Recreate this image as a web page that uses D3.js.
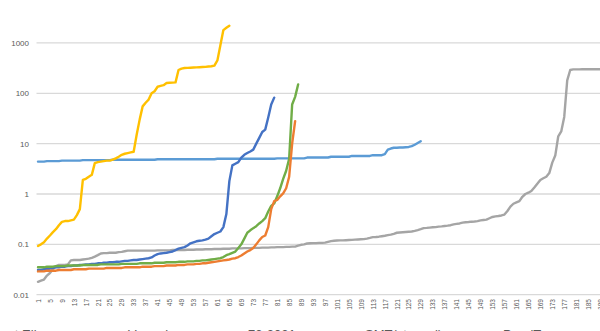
<!DOCTYPE html>
<html>
<head>
<meta charset="utf-8">
<script src="https://cdn.jsdelivr.net/npm/d3@7"></script>
<style>
  html, body { margin: 0; padding: 0; background: #fff; }
  svg { display: block; overflow: hidden; }
  text { font-family: "Liberation Sans", Arial, sans-serif; fill: #595959; }
</style>
</head>
<body>
<svg id="chart" width="600" height="331"></svg>
<script>
// Category positions along the x axis (1 .. 193)
const categories = d3.range(1, 194);
const xTickLabels = categories.filter(c => (c - 1) % 4 === 0);
const yTickLabels = [0.01, 0.1, 1, 10, 100, 1000];

const rootElim = [
  0.031,0.031,0.032,0.032,0.033,0.034,0.035,0.035,0.036,0.036,
  0.037,0.037,0.038,0.038,0.039,0.039,0.040,0.040,0.041,0.041,
  0.042,0.042,0.043,0.043,0.044,0.044,0.045,0.045,0.046,0.047,
  0.047,0.048,0.049,0.049,0.050,0.051,0.052,0.053,0.055,0.060,
  0.064,0.066,0.067,0.068,0.070,0.072,0.077,0.082,0.085,0.088,
  0.095,0.105,0.11,0.115,0.118,0.12,0.124,0.13,0.145,0.16,
  0.17,0.18,0.22,0.4,1.8,3.7,4.0,4.3,5.3,6.0,
  6.5,7.0,7.6,10,13,17,19,33,60,82
];

const varmain = [
  0.029,0.029,0.029,0.030,0.030,0.030,0.030,0.031,0.031,0.031,
  0.031,0.031,0.032,0.032,0.032,0.032,0.032,0.033,0.033,0.033,
  0.033,0.033,0.033,0.034,0.034,0.034,0.034,0.034,0.034,0.035,
  0.035,0.035,0.035,0.035,0.035,0.036,0.036,0.036,0.036,0.037,
  0.037,0.037,0.037,0.038,0.038,0.038,0.038,0.039,0.039,0.039,
  0.040,0.040,0.040,0.041,0.041,0.042,0.042,0.043,0.044,0.045,
  0.046,0.047,0.048,0.049,0.050,0.052,0.053,0.056,0.060,0.066,
  0.072,0.077,0.085,0.10,0.12,0.14,0.15,0.22,0.5,0.72,
  0.76,0.9,1.03,1.3,2.2,10,28
];

const set2021 = [
  0.018,0.019,0.020,0.024,0.027,0.032,0.037,0.039,0.039,0.039,
  0.040,0.048,0.049,0.049,0.049,0.050,0.051,0.052,0.054,0.057,
  0.061,0.066,0.067,0.067,0.068,0.068,0.068,0.070,0.071,0.073,
  0.075,0.075,0.075,0.075,0.075,0.075,0.075,0.075,0.075,0.075,
  0.076,0.076,0.076,0.076,0.076,0.077,0.077,0.077,0.077,0.077,
  0.078,0.078,0.078,0.079,0.079,0.079,0.080,0.080,0.080,0.081,
  0.081,0.081,0.082,0.082,0.082,0.083,0.083,0.083,0.083,0.084,
  0.084,0.084,0.085,0.085,0.085,0.086,0.086,0.086,0.087,0.087,
  0.088,0.088,0.088,0.089,0.089,0.090,0.090,0.094,0.098,0.100,
  0.104,0.105,0.106,0.106,0.107,0.107,0.108,0.112,0.116,0.118,
  0.119,0.120,0.120,0.121,0.122,0.123,0.124,0.125,0.126,0.127,
  0.130,0.134,0.139,0.140,0.142,0.145,0.148,0.152,0.156,0.162,
  0.170,0.172,0.174,0.176,0.178,0.180,0.185,0.192,0.200,0.210,
  0.212,0.215,0.218,0.220,0.225,0.228,0.232,0.235,0.240,0.250,
  0.255,0.260,0.270,0.275,0.278,0.282,0.285,0.290,0.300,0.305,
  0.310,0.330,0.350,0.360,0.365,0.375,0.390,0.460,0.560,0.640,
  0.680,0.720,0.880,1.00,1.06,1.15,1.35,1.60,1.90,2.05,
  2.20,2.60,4.20,5.80,14,17.5,34,180,290,298,
  299,299,300,300,300,300,300,300,300,300,300
];

const smtStanzel = [
  0.093,0.1,0.11,0.13,0.15,0.175,0.2,0.24,0.28,0.29,
  0.29,0.3,0.31,0.38,0.5,1.9,2.0,2.2,2.4,4.1,
  4.3,4.4,4.5,4.6,4.6,4.8,5.1,5.5,6.0,6.3,
  6.5,6.7,6.9,15,30,55,65,75,100,110,
  135,140,145,160,162,163,165,290,310,318,
  320,322,325,328,330,332,335,340,345,355,
  450,900,1800,2000,2200
];

const paraiT = [
  4.4,4.4,4.4,4.5,4.5,4.5,4.5,4.5,4.6,4.6,
  4.6,4.6,4.6,4.6,4.6,4.7,4.7,4.7,4.7,4.7,
  4.7,4.7,4.7,4.7,4.7,4.8,4.8,4.8,4.8,4.8,
  4.8,4.8,4.8,4.8,4.8,4.8,4.8,4.8,4.8,4.8,
  4.9,4.9,4.9,4.9,4.9,4.9,4.9,4.9,4.9,4.9,
  4.9,4.9,4.9,4.9,4.9,4.9,4.9,4.9,4.9,4.9,
  5.0,5.0,5.0,5.0,5.0,5.0,5.0,5.0,5.0,5.0,
  5.0,5.0,5.0,5.0,5.0,5.0,5.0,5.0,5.0,5.0,
  5.1,5.1,5.1,5.1,5.1,5.1,5.1,5.1,5.1,5.1,
  5.3,5.3,5.3,5.3,5.3,5.3,5.3,5.3,5.5,5.5,
  5.5,5.5,5.5,5.5,5.5,5.7,5.7,5.7,5.7,5.7,
  5.7,5.7,5.9,5.9,5.9,5.9,6.2,7.6,8.0,8.3,
  8.3,8.4,8.4,8.5,8.6,8.9,9.5,10.3,11.2
];

const greenSeries = [
  0.035,0.035,0.035,0.036,0.036,0.036,0.037,0.037,0.037,0.037,
  0.038,0.038,0.038,0.038,0.038,0.039,0.039,0.039,0.039,0.039,
  0.039,0.040,0.040,0.040,0.040,0.040,0.040,0.040,0.041,0.041,
  0.041,0.041,0.041,0.041,0.042,0.042,0.042,0.042,0.042,0.043,
  0.043,0.043,0.043,0.044,0.044,0.044,0.044,0.045,0.045,0.045,
  0.046,0.046,0.046,0.047,0.047,0.048,0.048,0.049,0.050,0.051,
  0.052,0.053,0.056,0.061,0.064,0.068,0.072,0.085,0.10,0.13,
  0.17,0.19,0.21,0.23,0.26,0.29,0.33,0.45,0.58,0.65,
  0.9,1.3,2.0,2.9,5.0,60,85,150
];

const seriesNames = ["Root Elim", "Varmain", "73-2021", "SMT(stanzel)", "ParaiT", "Hybrid"];
const seriesColors = ["#4472C4", "#ED7D31", "#A5A5A5", "#FFC000", "#5B9BD5", "#70AD47"];
const seriesValues = [rootElim, varmain, set2021, smtStanzel, paraiT, greenSeries];
// drawing order: later entries end up on top
const drawOrder = [4, 2, 3, 0, 5, 1];

const svg = d3.select("#chart");
const plotLeft = 36.5;
const step = 2.99;

const x = d3.scalePoint()
  .domain(categories)
  .range([plotLeft + step / 2, plotLeft + step / 2 + (categories.length - 1) * step]);

const y = d3.scaleLog()
  .domain([0.01, 10000])
  .range([294.7, 294.7 - 6 * 50.35]);

const plotRight = plotLeft + categories.length * step;

// horizontal gridlines
svg.append("g")
  .selectAll("line")
  .data(yTickLabels)
  .join("line")
  .attr("x1", plotLeft)
  .attr("x2", plotRight)
  .attr("y1", d => y(d))
  .attr("y2", d => y(d))
  .attr("stroke", "#d9d9d9")
  .attr("stroke-width", 1.3);

// y axis labels
const yAxis = d3.axisLeft(y)
  .tickValues(yTickLabels)
  .tickFormat(d3.format("~g"))
  .tickSize(0)
  .tickPadding(0);
svg.append("g")
  .attr("transform", "translate(29,0)")
  .call(yAxis)
  .call(g => g.select(".domain").remove())
  .call(g => g.selectAll("text")
    .style("font-family", "'Liberation Sans', Arial, sans-serif")
    .style("font-size", "8px")
    .attr("fill", "#595959"));

// x axis labels, rotated
const xAxis = d3.axisBottom(x)
  .tickValues(xTickLabels)
  .tickSize(0)
  .tickPadding(0);
svg.append("g")
  .attr("transform", "translate(0,299)")
  .call(xAxis)
  .call(g => g.select(".domain").remove())
  .call(g => g.selectAll("text")
    .style("font-family", "'Liberation Sans', Arial, sans-serif")
    .style("font-size", "6.5px")
    .attr("fill", "#595959")
    .attr("text-anchor", "end")
    .attr("transform", "rotate(-90)")
    .attr("x", 0)
    .attr("y", 0)
    .attr("dy", "0.34em"));

// series lines
const line = d3.line()
  .x((d, i) => x(categories[i]))
  .y(d => y(d))
  .curve(d3.curveLinear);

svg.append("g")
  .selectAll("path")
  .data(drawOrder)
  .join("path")
  .attr("d", k => line(seriesValues[k]))
  .attr("fill", "none")
  .attr("stroke", k => seriesColors[k])
  .attr("stroke-width", 2.4)
  .attr("stroke-linejoin", "round")
  .attr("stroke-linecap", "round");

// legend along the bottom
const legendTextX = [-9, 128, 248, 365, 503, 640];
const legend = svg.append("g")
  .selectAll("g")
  .data(seriesNames)
  .join("g")
  .attr("transform", (d, i) => `translate(${legendTextX[i]},339)`);
legend.append("line")
  .attr("x1", -26).attr("x2", -6)
  .attr("y1", -4).attr("y2", -4)
  .attr("stroke", (d, i) => seriesColors[i])
  .attr("stroke-width", 2.4);
legend.append("text")
  .attr("x", 0)
  .attr("y", 0)
  .style("font-size", "13px")
  .text(d => d);
</script>
</body>
</html>
